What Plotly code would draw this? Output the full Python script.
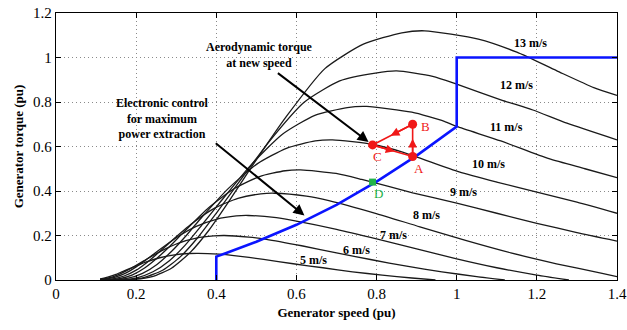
import plotly.graph_objects as go

# ---------------- data ----------------
x5 = [0.11, 0.129, 0.148, 0.166, 0.185, 0.222, 0.259, 0.296, 0.333, 0.355, 0.407, 0.444, 0.518, 0.592, 0.666, 0.740, 0.814, 0.888, 0.947]
y5 = [0.005, 0.013, 0.024, 0.038, 0.052, 0.079, 0.100, 0.113, 0.119, 0.120, 0.116, 0.110, 0.093, 0.073, 0.055, 0.037, 0.022, 0.009, 0.0]

x6 = [0.11, 0.131, 0.153, 0.175, 0.197, 0.219, 0.263, 0.306, 0.35, 0.394, 0.42, 0.481, 0.525, 0.613, 0.70, 0.788, 0.875, 0.963, 1.05, 1.12]
y6 = [0.003, 0.009, 0.022, 0.041, 0.063, 0.086, 0.131, 0.166, 0.188, 0.198, 0.20, 0.193, 0.183, 0.154, 0.122, 0.091, 0.062, 0.037, 0.015, 0.0]

x7 = [0.11, 0.125, 0.15, 0.175, 0.20, 0.225, 0.25, 0.30, 0.35, 0.40, 0.45, 0.48, 0.55, 0.60, 0.70, 0.80, 0.90, 1.0, 1.10, 1.20, 1.28]
y7 = [0.0, 0.004, 0.014, 0.032, 0.059, 0.091, 0.125, 0.190, 0.241, 0.273, 0.288, 0.29, 0.280, 0.265, 0.228, 0.185, 0.140, 0.095, 0.055, 0.022, 0.0]

x8 = [0.11, 0.142, 0.170, 0.199, 0.227, 0.256, 0.284, 0.341, 0.397, 0.454, 0.511, 0.545, 0.625, 0.681, 0.795, 0.908, 1.022, 1.135, 1.249, 1.363, 1.40]
y8 = [0.0, 0.005, 0.018, 0.043, 0.079, 0.123, 0.169, 0.256, 0.324, 0.367, 0.387, 0.39, 0.377, 0.357, 0.301, 0.239, 0.178, 0.122, 0.073, 0.030, 0.015]

x9 = [0.11, 0.127, 0.159, 0.191, 0.222, 0.254, 0.286, 0.318, 0.381, 0.445, 0.508, 0.572, 0.61, 0.699, 0.763, 0.890, 1.0, 1.1, 1.2, 1.3, 1.4]
y9 = [0.0, 0.001, 0.006, 0.023, 0.055, 0.101, 0.155, 0.214, 0.325, 0.411, 0.465, 0.491, 0.495, 0.479, 0.452, 0.392, 0.345, 0.30, 0.255, 0.213, 0.175]

x10 = [0.11, 0.144, 0.180, 0.216, 0.252, 0.288, 0.324, 0.359, 0.431, 0.503, 0.575, 0.647, 0.69, 0.791, 0.863, 1.006, 1.1, 1.2, 1.3, 1.4]
y10 = [0.0, 0.001, 0.008, 0.030, 0.070, 0.128, 0.198, 0.272, 0.413, 0.523, 0.592, 0.625, 0.63, 0.609, 0.576, 0.486, 0.44, 0.395, 0.35, 0.30]

x11 = [0.11, 0.162, 0.202, 0.242, 0.283, 0.323, 0.363, 0.404, 0.484, 0.565, 0.646, 0.727, 0.775, 0.888, 0.969, 1.0, 1.11, 1.23, 1.32, 1.4]
y11 = [0.0, 0.001, 0.010, 0.037, 0.087, 0.158, 0.245, 0.337, 0.512, 0.655, 0.740, 0.775, 0.78, 0.754, 0.713, 0.69, 0.625, 0.545, 0.50, 0.46]

x12 = [0.11, 0.177, 0.221, 0.266, 0.310, 0.354, 0.398, 0.443, 0.531, 0.620, 0.708, 0.797, 0.85, 0.94, 1.0, 1.11, 1.19, 1.275, 1.4]
y12 = [0.0, 0.002, 0.012, 0.044, 0.104, 0.191, 0.295, 0.406, 0.620, 0.800, 0.895, 0.930, 0.94, 0.915, 0.88, 0.81, 0.764, 0.705, 0.63]

x13 = [0.11, 0.192, 0.240, 0.288, 0.335, 0.383, 0.431, 0.479, 0.575, 0.671, 0.767, 0.863, 0.92, 1.054, 1.15, 1.25, 1.342, 1.40]
y13 = [0.0, 0.002, 0.015, 0.053, 0.124, 0.227, 0.352, 0.484, 0.735, 0.950, 1.060, 1.111, 1.12, 1.083, 1.024, 0.94, 0.865, 0.83]

wind_labels = ["5 m/s", "6 m/s", "7 m/s", "8 m/s", "9 m/s", "10 m/s", "11 m/s", "12 m/s", "13 m/s"]
label_x = [0.642, 0.75, 0.842, 0.925, 1.016, 1.079, 1.125, 1.15, 1.183]
label_y = [0.09, 0.135, 0.202, 0.292, 0.397, 0.521, 0.689, 0.876, 1.064]

# control (maximum power tracking) characteristic
ctrl_x = [0.4, 0.4, 0.42, 0.5, 0.6, 0.7, 0.8, 0.9, 1.0, 1.0, 1.4]
ctrl_y = [0.0, 0.105, 0.118, 0.172, 0.248, 0.338, 0.442, 0.559, 0.69, 1.0, 1.0]

# operating points
pt_names = ["A", "B", "C"]
pt_x = [0.89, 0.89, 0.79]
pt_y = [0.555, 0.70, 0.607]
d_x = [0.79]
d_y = [0.44]

x_ticks = [0, 0.2, 0.4, 0.6, 0.8, 1.0, 1.2, 1.4]
x_tick_text = ["0", "0.2", "0.4", "0.6", "0.8", "1", "1.2", "1.4"]
y_ticks = [0, 0.2, 0.4, 0.6, 0.8, 1.0, 1.2]
y_tick_text = ["0", "0.2", "0.4", "0.6", "0.8", "1", "1.2"]

# ---------------- figure ----------------
SERIF = "Liberation Serif, Times New Roman, serif"
fig = go.Figure()

curves = [(x5, y5), (x6, y6), (x7, y7), (x8, y8), (x9, y9), (x10, y10), (x11, y11), (x12, y12), (x13, y13)]
for cx, cy in curves:
    fig.add_trace(go.Scatter(x=cx, y=cy, mode="lines", line_shape="spline",
                             line=dict(color="#1a1a1a", width=1.3, smoothing=0.6), hoverinfo="skip"))

fig.add_trace(go.Scatter(x=ctrl_x, y=ctrl_y, mode="lines",
                         line=dict(color="#0a14ff", width=2.6), hoverinfo="skip"))

# red triangle A -> B -> C -> A
tri_x = [pt_x[0], pt_x[1], pt_x[2], pt_x[0]]
tri_y = [pt_y[0], pt_y[1], pt_y[2], pt_y[0]]
fig.add_trace(go.Scatter(x=tri_x, y=tri_y, mode="lines",
                         line=dict(color="#f01818", width=1.6), hoverinfo="skip"))
fig.add_trace(go.Scatter(x=pt_x, y=pt_y, mode="markers",
                         marker=dict(color="#f01818", size=9), hoverinfo="skip"))
fig.add_trace(go.Scatter(x=d_x, y=d_y, mode="markers",
                         marker=dict(color="#22b24a", size=7, symbol="square"), hoverinfo="skip"))

ann = []
segs = [(0, 1), (1, 2), (2, 0)]
for i, j in segs:
    mx = pt_x[i] + 0.55 * (pt_x[j] - pt_x[i])
    my = pt_y[i] + 0.55 * (pt_y[j] - pt_y[i])
    ann.append(dict(x=mx, y=my, ax=pt_x[i], ay=pt_y[i], xref="x", yref="y",
                    axref="x", ayref="y", showarrow=True, arrowhead=2,
                    arrowsize=1.1, arrowwidth=1.6, arrowcolor="#f01818", text=""))

ann.append(dict(x=0.905, y=0.503, text="A", showarrow=False, xref="x", yref="y",
                font=dict(family=SERIF, size=13, color="#f01818")))
ann.append(dict(x=0.922, y=0.69, text="B", showarrow=False, xref="x", yref="y",
                font=dict(family=SERIF, size=13, color="#f01818")))
ann.append(dict(x=0.802, y=0.553, text="C", showarrow=False, xref="x", yref="y",
                font=dict(family=SERIF, size=13, color="#f01818")))
ann.append(dict(x=0.805, y=0.39, text="D", showarrow=False, xref="x", yref="y",
                font=dict(family=SERIF, size=13, color="#22b24a")))

for t, lx, ly in zip(wind_labels, label_x, label_y):
    ann.append(dict(x=lx, y=ly, text="<b>" + t + "</b>", showarrow=False, xref="x", yref="y",
                    font=dict(family=SERIF, size=12, color="black")))

ann.append(dict(x=0.507, y=1.013, text="<b>Aerodynamic torque<br>at new speed</b>",
                showarrow=False, xref="x", yref="y",
                font=dict(family=SERIF, size=12, color="black")))
ann.append(dict(x=0.78, y=0.62, ax=0.55, ay=0.935, xref="x", yref="y", axref="x", ayref="y",
                showarrow=True, arrowhead=2, arrowsize=1.1, arrowwidth=2, arrowcolor="black", text=""))
ann.append(dict(x=0.265, y=0.724, text="<b>Electronic control<br>for maximum<br>power extraction</b>",
                showarrow=False, xref="x", yref="y",
                font=dict(family=SERIF, size=12, color="black")))
ann.append(dict(x=0.62, y=0.29, ax=0.395, ay=0.62, xref="x", yref="y", axref="x", ayref="y",
                showarrow=True, arrowhead=2, arrowsize=1.1, arrowwidth=2, arrowcolor="black", text=""))

fig.update_layout(
    width=627, height=330,
    margin=dict(l=56, r=10, t=13, b=50, autoexpand=False),
    paper_bgcolor="white", plot_bgcolor="white",
    showlegend=False,
    annotations=ann,
    font=dict(family=SERIF, color="black"),
)
axis_common = dict(showline=True, linecolor="black", linewidth=1.3, mirror="allticks",
                   ticks="inside", ticklen=5, tickcolor="black", automargin=False,
                   ticklabeloverflow="allow",
                   showgrid=True, gridcolor="#8a8a8a", griddash="1px,3px", gridwidth=1.2,
                   zeroline=False, tickfont=dict(family=SERIF, size=15, color="black"))
fig.update_xaxes(range=[0, 1.4], tickvals=x_ticks, ticktext=x_tick_text,
                 title=dict(text="<b>Generator speed (pu)</b>", font=dict(family=SERIF, size=13), standoff=6),
                 **axis_common)
fig.update_yaxes(range=[0, 1.2], tickvals=y_ticks, ticktext=y_tick_text,
                 title=dict(text="<b>Generator torque (pu)</b>", font=dict(family=SERIF, size=13), standoff=6),
                 **axis_common)

# remove the default page margin so the figure sits at the window's top-left corner
fig.write_html("out.html", config={"displayModeBar": False},
               post_script="document.body.style.margin='0';")
